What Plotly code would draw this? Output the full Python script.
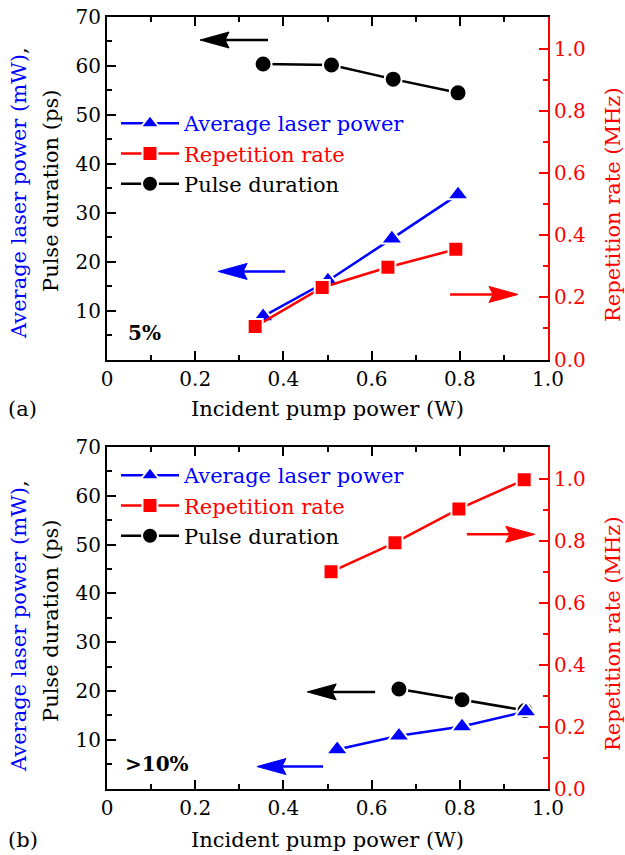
import plotly.graph_objects as go

# ---------------- data ----------------
# panel (a)  5%
x_pow_a = [0.354, 0.501, 0.646, 0.796]
pow_a = [8.8, 16.1, 24.7, 33.7]          # average laser power (mW)
x_rep_a = [0.336, 0.488, 0.637, 0.791]
rep_a = [0.106, 0.232, 0.297, 0.355]     # repetition rate (MHz)
x_dur_a = [0.354, 0.509, 0.649, 0.796]
dur_a = [60.4, 60.2, 57.3, 54.5]         # pulse duration (ps)

# panel (b)  >10%
x_pow_b = [0.522, 0.662, 0.805, 0.950]
pow_b = [8.0, 10.8, 12.7, 15.8]
x_rep_b = [0.508, 0.653, 0.798, 0.946]
rep_b = [0.700, 0.794, 0.903, 0.997]
x_dur_b = [0.662, 0.805, 0.948]
dur_b = [20.4, 18.2, 16.0]

x_tickvals = [0, 0.2, 0.4, 0.6, 0.8, 1.0]
x_ticktext = ["0", "0.2", "0.4", "0.6", "0.8", "1.0"]
yl_tickvals = [10, 20, 30, 40, 50, 60, 70]
yr_tickvals = [0.0, 0.2, 0.4, 0.6, 0.8, 1.0]
yr_ticktext = ["0.0", "0.2", "0.4", "0.6", "0.8", "1.0"]

# ---------------- style ----------------
FONT = "DejaVu Serif"
BLUE, RED, BLACK = "#0000ff", "#ff0000", "#000000"
W, H = 625, 855
PX0, PX1 = 107, 548
PANELS = [(17, 359.5), (447, 788.5)]
YL_RANGE = [0, 70]
YR_RANGE = [0, 1.103]
TICKFONT = 20
TITLEFONT = 21

def ydom(top, bot):
    return [1 - bot / H, 1 - top / H]

xdom = [PX0 / W, PX1 / W]

fig = go.Figure()

panel_data = [
    dict(xa="x", yl="y", yr="y2", leg="legend",
         xp=x_pow_a, p=pow_a, xr=x_rep_a, r=rep_a, xd=x_dur_a, d=dur_a),
    dict(xa="x2", yl="y3", yr="y4", leg="legend2",
         xp=x_pow_b, p=pow_b, xr=x_rep_b, r=rep_b, xd=x_dur_b, d=dur_b),
]

for pd_ in panel_data:
    fig.add_trace(go.Scatter(
        x=pd_["xd"], y=pd_["d"], xaxis=pd_["xa"], yaxis=pd_["yl"],
        mode="lines+markers", name="Pulse duration",
        line=dict(color=BLACK, width=2.5),
        marker=dict(symbol="circle", size=17, color=BLACK,
                    line=dict(color="white", width=2)),
        legend=pd_["leg"], legendrank=3, legendgroup="d" + pd_["leg"]))
    fig.add_trace(go.Scatter(
        x=pd_["xp"], y=pd_["p"], xaxis=pd_["xa"], yaxis=pd_["yl"],
        mode="lines+markers",
        name="<span style='color:#0000ff'>Average laser power</span>",
        line=dict(color=BLUE, width=2.5),
        marker=dict(symbol="triangle-up", size=19, color=BLUE,
                    line=dict(color="white", width=2)),
        legend=pd_["leg"], legendrank=1, legendgroup="p" + pd_["leg"]))
    fig.add_trace(go.Scatter(
        x=pd_["xr"], y=pd_["r"], xaxis=pd_["xa"], yaxis=pd_["yr"],
        mode="lines+markers",
        name="<span style='color:#ff0000'>Repetition rate</span>",
        line=dict(color=RED, width=2.5),
        marker=dict(symbol="square", size=15, color=RED,
                    line=dict(color="white", width=2)),
        legend=pd_["leg"], legendrank=2, legendgroup="r" + pd_["leg"]))

def xaxis_cfg(anchor):
    return dict(domain=xdom, anchor=anchor, range=[0, 1], automargin=False,
                tickvals=x_tickvals, ticktext=x_ticktext,
                ticks="inside", ticklen=9, tickwidth=1.5, tickcolor=BLACK,
                minor=dict(dtick=0.1, tick0=0, ticks="inside", ticklen=5,
                           tickwidth=1.5, tickcolor=BLACK),
                showline=True, linecolor=BLACK, linewidth=2, mirror="ticks",
                showgrid=False, zeroline=False,
                tickfont=dict(family=FONT, size=TICKFONT, color=BLACK))

def yl_cfg(anchor, dom):
    return dict(domain=dom, anchor=anchor, range=YL_RANGE, automargin=False,
                tickvals=yl_tickvals,
                ticks="inside", ticklen=9, tickwidth=1.5, tickcolor=BLACK,
                minor=dict(dtick=5, tick0=0, ticks="inside", ticklen=5,
                           tickwidth=1.5, tickcolor=BLACK),
                showline=True, linecolor=BLACK, linewidth=2,
                showgrid=False, zeroline=False,
                tickfont=dict(family=FONT, size=TICKFONT, color=BLACK))

def yr_cfg(anchor, over):
    return dict(anchor=anchor, overlaying=over, side="right", range=YR_RANGE,
                automargin=False,
                tickvals=yr_tickvals, ticktext=yr_ticktext,
                ticks="inside", ticklen=9, tickwidth=1.5, tickcolor=RED,
                minor=dict(dtick=0.1, tick0=0, ticks="inside", ticklen=5,
                           tickwidth=1.5, tickcolor=RED),
                showline=True, linecolor=RED, linewidth=2,
                showgrid=False, zeroline=False,
                tickfont=dict(family=FONT, size=TICKFONT, color=RED))

legend_common = dict(xanchor="left", yanchor="top", bgcolor="rgba(0,0,0,0)",
                     font=dict(family=FONT, size=21, color=BLACK),
                     traceorder="grouped", tracegroupgap=0, borderwidth=0,
                     itemwidth=58)

fig.update_layout(
    template="none",
    width=W, height=H, margin=dict(l=0, r=0, t=0, b=0, autoexpand=False),
    paper_bgcolor="white", plot_bgcolor="white",
    font=dict(family=FONT, size=TICKFONT, color=BLACK),
    xaxis=xaxis_cfg("y"), yaxis=yl_cfg("x", ydom(*PANELS[0])), yaxis2=yr_cfg("x", "y"),
    xaxis2=xaxis_cfg("y3"), yaxis3=yl_cfg("x2", ydom(*PANELS[1])), yaxis4=yr_cfg("x2", "y3"),
    legend=dict(x=116 / W, y=1 - 103 / H, **legend_common),
    legend2=dict(x=116 / W, y=1 - 455 / H, **legend_common),
)

# ---------------- text annotations ----------------
ann = []
def txt(text, x, y, xref="paper", yref="paper", size=TITLEFONT, color=BLACK,
        angle=0, xanchor="center", yanchor="middle"):
    ann.append(dict(text=text, x=x, y=y, xref=xref, yref=yref, showarrow=False,
                    textangle=angle, xanchor=xanchor, yanchor=yanchor,
                    font=dict(family=FONT, size=size, color=color)))

titles = [  # blue-center-y px, black-center-y px, red-center-y px, label, label-y px
    (193, 191, 205, "(a)", 409),
    (626, 621, 634, "(b)", 840),
]
for yb, yk, yr, lab, ylab in titles:
    txt("<span style='color:#0000ff'>Average laser power (mW)</span>,",
        19 / W, 1 - yb / H, angle=-90)
    txt("Pulse duration (ps)", 51 / W, 1 - yk / H, angle=-90)
    txt("Repetition rate (MHz)", 613 / W, 1 - yr / H, angle=-90, color=RED)
    txt(lab, 6 / W, 1 - ylab / H, xanchor="left")
    txt("Incident pump power (W)", 327 / W, 1 - ylab / H)

txt("<b>5%</b>", 0.084, 5.5, xref="x", yref="y", size=20)
txt("<b>>10%</b>", 0.114, 5.1, xref="x2", yref="y3", size=20)

# ---------------- direction arrows (decoration) ----------------
arrows = [  # xref, yref, tail x, tip x, y (left-axis units), colour
    ("x", "y", 0.365, 0.211, 65.3, BLACK),
    ("x", "y", 0.404, 0.252, 18.0, BLUE),
    ("x", "y", 0.778, 0.932, 13.3, RED),
    ("x2", "y3", 0.608, 0.454, 19.8, BLACK),
    ("x2", "y3", 0.490, 0.340, 4.5, BLUE),
    ("x2", "y3", 0.816, 0.970, 52.1, RED),
]
xpx = PX1 - PX0
ypx = (PANELS[0][1] - PANELS[0][0]) / (YL_RANGE[1] - YL_RANGE[0])
HEAD_L, HEAD_H, NOTCH = 29 / xpx, 8 / ypx, 4 / xpx
shapes = []
for xr_, yr_, xt, xh, yv, col in arrows:
    s = 1 if xh > xt else -1
    back = xh - s * HEAD_L
    shapes.append(dict(type="line", xref=xr_, yref=yr_, x0=xt, x1=back + s * NOTCH,
                       y0=yv, y1=yv, line=dict(color=col, width=2.5)))
    path = (f"M{xh},{yv} L{back},{yv + HEAD_H} L{back + s * NOTCH},{yv} "
            f"L{back},{yv - HEAD_H} Z")
    shapes.append(dict(type="path", xref=xr_, yref=yr_, path=path,
                       fillcolor=col, line=dict(color=col, width=1)))

fig.update_layout(annotations=ann, shapes=shapes)
fig.write_html("out.html")
